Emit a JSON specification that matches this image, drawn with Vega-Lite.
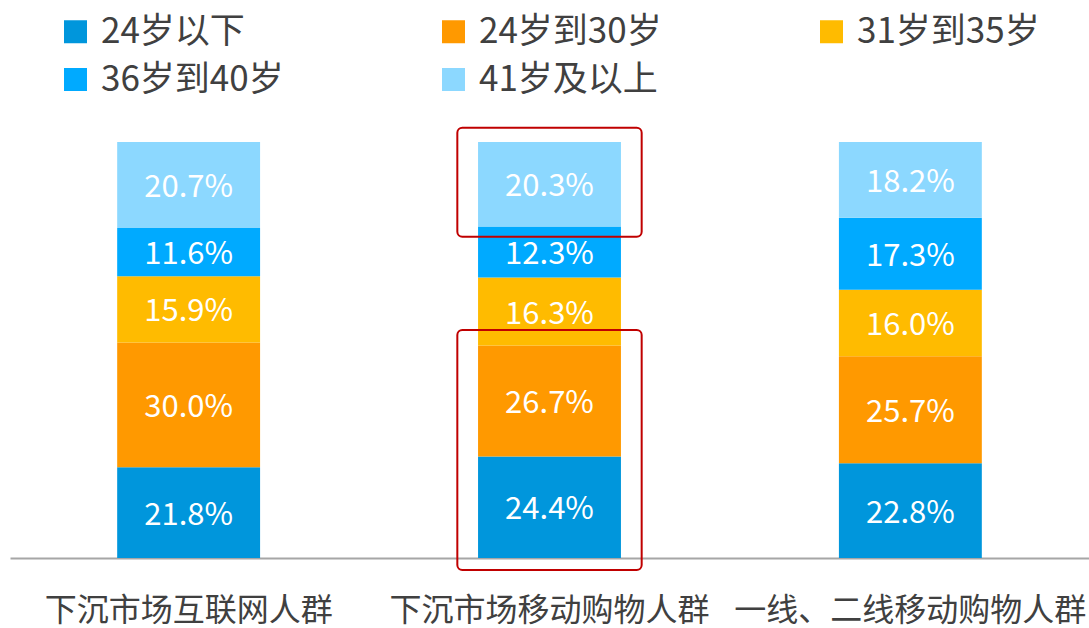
{
  "$schema": "https://vega.github.io/schema/vega-lite/v6.json",
  "width": 1079,
  "height": 416,
  "autosize": "none",
  "padding": {"left": 10, "top": 142, "right": 0, "bottom": 70},
  "background": "white",
  "config": {
    "view": {"stroke": null},
    "font": "Noto Sans CJK SC"
  },
  "datasets": {
    "ages": [
      {"group": "下沉市场互联网人群", "age": "24岁以下", "idx": 1, "pct": 21.8},
      {"group": "下沉市场互联网人群", "age": "24岁到30岁", "idx": 2, "pct": 30.0},
      {"group": "下沉市场互联网人群", "age": "31岁到35岁", "idx": 3, "pct": 15.9},
      {"group": "下沉市场互联网人群", "age": "36岁到40岁", "idx": 4, "pct": 11.6},
      {"group": "下沉市场互联网人群", "age": "41岁及以上", "idx": 5, "pct": 20.7},
      {"group": "下沉市场移动购物人群", "age": "24岁以下", "idx": 1, "pct": 24.4},
      {"group": "下沉市场移动购物人群", "age": "24岁到30岁", "idx": 2, "pct": 26.7},
      {"group": "下沉市场移动购物人群", "age": "31岁到35岁", "idx": 3, "pct": 16.3},
      {"group": "下沉市场移动购物人群", "age": "36岁到40岁", "idx": 4, "pct": 12.3},
      {"group": "下沉市场移动购物人群", "age": "41岁及以上", "idx": 5, "pct": 20.3},
      {"group": "一线、二线移动购物人群", "age": "24岁以下", "idx": 1, "pct": 22.8},
      {"group": "一线、二线移动购物人群", "age": "24岁到30岁", "idx": 2, "pct": 25.7},
      {"group": "一线、二线移动购物人群", "age": "31岁到35岁", "idx": 3, "pct": 16.0},
      {"group": "一线、二线移动购物人群", "age": "36岁到40岁", "idx": 4, "pct": 17.3},
      {"group": "一线、二线移动购物人群", "age": "41岁及以上", "idx": 5, "pct": 18.2}
    ],
    "boxes": [
      {"group": "下沉市场移动购物人群", "lo": 77.2, "hi": 103.4},
      {"group": "下沉市场移动购物人群", "lo": -2.9, "hi": 54.8}
    ]
  },
  "encoding": {
    "x": {
      "field": "group",
      "type": "nominal",
      "sort": ["下沉市场互联网人群", "下沉市场移动购物人群", "一线、二线移动购物人群"],
      "scale": {"paddingInner": 0.604, "paddingOuter": 0.297},
      "axis": {
        "title": null,
        "labelAngle": 0,
        "ticks": false,
        "domainColor": "#A6A6A6",
        "domainWidth": 2,
        "labelFontSize": 32,
        "labelColor": "#404040",
        "labelPadding": 37,
        "labelLimit": 500,
        "labelOverlap": false,
        "labelFont": "Noto Sans CJK SC"
      }
    }
  },
  "layer": [
    {
      "data": {"name": "ages"},
      "transform": [
        {"stack": "pct", "groupby": ["group"], "sort": [{"field": "idx", "order": "ascending"}], "as": ["y0", "y1"]},
        {"calculate": "(datum.y0 + datum.y1) / 2", "as": "mid"},
        {"calculate": "format(datum.pct, '.1f') + '%'", "as": "lbl"}
      ],
      "layer": [
        {
          "mark": {"type": "bar"},
          "encoding": {
            "y": {"field": "y0", "type": "quantitative", "scale": {"domain": [0, 100], "nice": false}, "axis": null},
            "y2": {"field": "y1"},
            "color": {
              "field": "age",
              "type": "nominal",
              "scale": {
                "domain": ["24岁以下", "24岁到30岁", "31岁到35岁", "36岁到40岁", "41岁及以上"],
                "range": ["#0096DC", "#FF9900", "#FFBB00", "#00AAFF", "#8CD8FF"]
              },
              "legend": {
                "title": null,
                "orient": "none",
                "legendX": 48,
                "legendY": -128,
                "direction": "horizontal",
                "columns": 3,
                "columnPadding": 152,
                "rowPadding": 12,
                "symbolType": "square",
                "symbolSize": 529,
                "symbolStrokeWidth": 0,
                "symbolOpacity": 1,
                "labelFontSize": 35,
                "labelColor": "#404040",
                "labelOffset": 8,
                "labelFont": "Noto Sans CJK SC",
                "labelLimit": 400
              }
            }
          }
        },
        {
          "mark": {"type": "text", "color": "white", "fontSize": 31, "baseline": "middle", "align": "center", "dy": 3},
          "encoding": {
            "y": {"field": "mid", "type": "quantitative"},
            "text": {"field": "lbl", "type": "nominal"}
          }
        }
      ]
    },
    {
      "data": {"name": "boxes"},
      "mark": {"type": "bar", "filled": false, "stroke": "#C00000", "strokeWidth": 2, "cornerRadius": 5, "width": {"band": 1.29}, "clip": false},
      "encoding": {
        "y": {"field": "lo", "type": "quantitative"},
        "y2": {"field": "hi"}
      }
    }
  ]
}
